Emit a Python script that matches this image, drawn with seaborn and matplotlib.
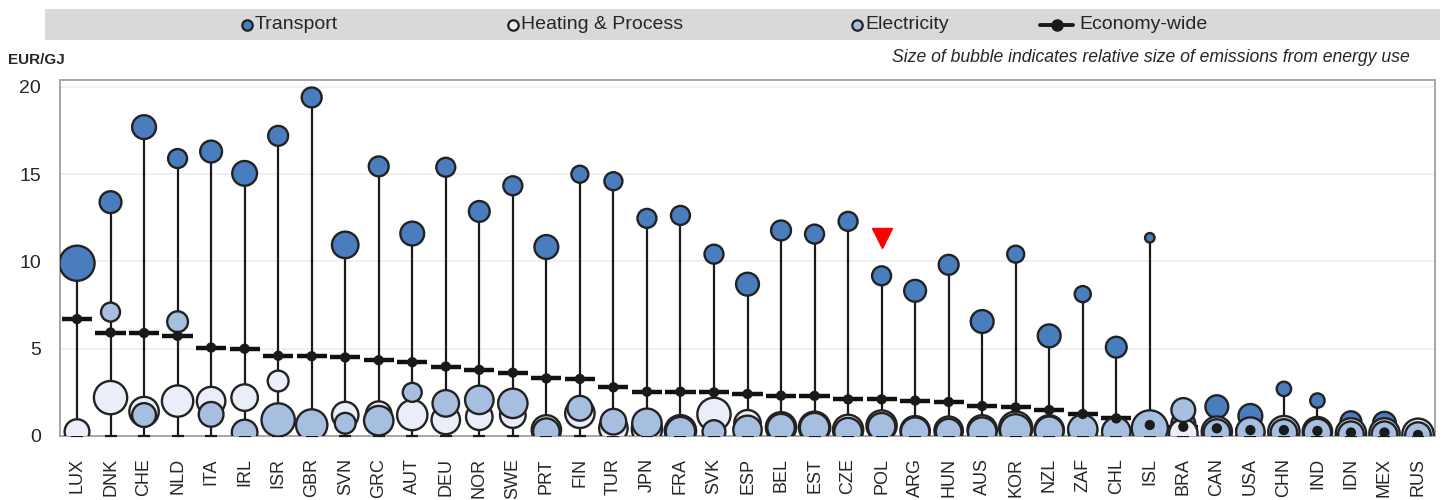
import numpy as np
import pandas as pd
import matplotlib
matplotlib.use("Agg")
import matplotlib.pyplot as plt
from matplotlib.lines import Line2D
from matplotlib.patches import Rectangle
import seaborn as sns

# --- data (EUR/GJ) ---
countries = ["LUX", "DNK", "CHE", "NLD", "ITA", "IRL", "ISR", "GBR", "SVN", "GRC",
             "AUT", "DEU", "NOR", "SWE", "PRT", "FIN", "TUR", "JPN", "FRA", "SVK",
             "ESP", "BEL", "EST", "CZE", "POL", "ARG", "HUN", "AUS", "KOR", "NZL",
             "ZAF", "CHL", "ISL", "BRA", "CAN", "USA", "CHN", "IND", "IDN", "MEX", "RUS"]

transport = [9.9, 13.4, 17.7, 15.9, 16.3, 15.05, 17.2, 19.4, 10.95, 15.45,
             11.6, 15.4, 12.87, 14.34, 10.83, 15.0, 14.6, 12.47, 12.64, 10.42,
             8.7, 11.78, 11.57, 12.3, 9.18, 8.32, 9.81, 6.56, 10.42, 5.74,
             8.13, 5.09, 11.36, 0.7, 1.68, 1.15, 2.7, 2.03, 0.82, 0.73, np.nan]
heating = [0.25, 2.2, 1.4, 2.0, 2.0, 2.2, 3.15, 0.5, 1.2, 1.25,
           1.2, 0.92, 1.1, 1.2, 0.35, 1.3, 0.44, 0.4, 0.3, 1.24,
           0.73, 0.5, 0.5, 0.35, 0.6, 0.3, 0.3, 0.35, 0.45, 0.35,
           0.3, 0.25, 0.4, 0.15, 0.25, 0.2, 0.25, 0.25, 0.15, 0.15, 0.1]
electricity = [np.nan, 7.1, 1.2, 6.55, 1.24, 0.2, 0.92, 0.63, 0.73, 0.88,
               2.5, 1.87, 2.07, 1.87, 0.25, 1.59, 0.82, 0.73, 0.25, 0.25,
               0.35, 0.48, 0.48, 0.25, 0.53, 0.25, 0.25, 0.25, 0.35, 0.3,
               0.38, 0.25, 0.44, 1.49, 0.2, 0.25, 0.2, 0.2, 0.1, 0.1, 0.05]
economy = [6.7, 5.93, 5.9, 5.74, 5.07, 5.0, 4.6, 4.57, 4.5, 4.34,
           4.23, 3.98, 3.79, 3.63, 3.3, 3.27, 2.79, 2.54, 2.54, 2.5,
           2.41, 2.31, 2.3, 2.1, 2.1, 2.03, 1.95, 1.72, 1.64, 1.49,
           1.26, 1.01, 0.63, 0.53, 0.44, 0.34, 0.34, 0.29, 0.2, 0.2, 0.06]

# relative size of emissions (bubble area)
emis_transport = [13.7, 5.3, 6.3, 4.0, 5.3, 6.8, 4.4, 4.4, 7.8, 4.4,
                  6.3, 4.0, 4.8, 4.0, 6.3, 3.2, 3.6, 4.0, 4.0, 4.0,
                  5.8, 4.4, 4.0, 4.0, 4.0, 5.3, 4.4, 5.8, 3.2, 5.8,
                  2.9, 4.8, 1.0, 6.3, 5.8, 6.3, 2.3, 2.3, 4.8, 5.8, 4.8]
emis_heating = [6.8, 12.3, 9.6, 10.9, 9.0, 7.8, 4.8, 7.8, 7.8, 7.3,
                10.2, 9.0, 7.8, 7.3, 9.6, 9.6, 9.0, 10.2, 10.9, 12.3,
                7.8, 10.2, 10.9, 10.2, 10.2, 9.6, 9.0, 9.6, 12.3, 9.6,
                9.0, 8.4, 11.6, 9.0, 10.2, 8.4, 10.9, 9.6, 10.2, 10.2, 10.9]
emis_electricity = [np.nan, 4.0, 6.3, 4.8, 6.8, 7.3, 12.3, 10.9, 4.8, 9.6,
                    4.0, 7.8, 9.0, 9.6, 7.8, 6.8, 7.3, 9.6, 9.6, 5.8,
                    9.0, 8.4, 9.6, 8.4, 8.4, 9.0, 7.3, 9.0, 10.9, 9.0,
                    9.6, 9.0, 14.4, 6.3, 7.8, 9.0, 7.8, 8.4, 7.3, 7.3, 7.3]

highlight_country = "POL"
highlight_value = 11.34

colors = {"Transport": "#4a7dbd", "Heating & Process": "#e9eef8", "Electricity": "#a6bfe1"}

# --- long table for seaborn ---
pos = np.arange(len(countries))
frames = []
for name, vals, em in [("Transport", transport, emis_transport),
                       ("Heating & Process", heating, emis_heating),
                       ("Electricity", electricity, emis_electricity)]:
    frames.append(pd.DataFrame({"x": pos, "country": countries, "value": vals,
                                "emis": em, "sector": name}))
df = pd.concat(frames, ignore_index=True).dropna(subset=["value", "emis"])

top = np.nanmax(np.vstack([transport, heating, electricity]), axis=0)

sns.set_style("white")
plt.rcParams["font.family"] = ["Liberation Sans", "DejaVu Sans"]

fig = plt.figure(figsize=(14.42, 5.0), dpi=100)
ax = fig.add_axes([60.25 / 1442, 64 / 500, (1434.75 - 60.25) / 1442, 356 / 500])

# stems and bottom caps
ax.vlines(pos, 0, top, color="#1a1a1a", lw=1.6, zorder=1)
ax.plot(pos, np.zeros(len(pos)), ls="none", marker="_", ms=9, mew=1.6,
        color="#1a1a1a", zorder=2.7, clip_on=False)

# economy-wide dashes
ax.hlines(economy, pos - 0.45, pos + 0.45, color="#111111", lw=3.2, zorder=2)

# bubbles
emax = 15.0
sns.scatterplot(data=df, x="x", y="value", hue="sector", palette=colors,
                size="emis", sizes=(0, emax * 0.72 ** 2 * 100 * 0.9), size_norm=(0, emax),
                edgecolor="#222222", linewidth=1.7, legend=False, ax=ax, zorder=3)

# economy-wide dots
sns.scatterplot(x=pos, y=economy, color="#1a1a1a", s=55, edgecolor="none",
                legend=False, ax=ax, zorder=4)

# red marker
ax.plot(countries.index(highlight_country), highlight_value, marker="v", ms=15,
        color="#ff0000", ls="none", zorder=5)

ax.set_xlim(-0.5, len(countries) - 0.5)
ax.set_ylim(0, 20.4)
ax.set_yticks([0, 5, 10, 15, 20])
ax.set_xticks(pos)
ax.set_xticklabels(countries, rotation=90)
ax.set_xlabel("")
ax.set_ylabel("")
ax.tick_params(axis="x", length=0, pad=16, labelsize=13)
ax.tick_params(axis="y", length=0, pad=14, labelsize=14)
ax.grid(axis="y", color="#eeeeee", lw=1.2)
ax.set_axisbelow(True)
for sp in ax.spines.values():
    sp.set_color("#a6a6a6")
    sp.set_linewidth(1.4)

# legend band
fig.add_artist(Rectangle((45 / 1442, 1 - 40 / 500), (1440 - 45) / 1442, 31 / 500,
                         transform=fig.transFigure, facecolor="#d9d9d9",
                         edgecolor="none", zorder=0))
ly = 1 - 24.5 / 500
items = [(247, "Transport"), (513, "Heating & Process"), (857, "Electricity")]
for px, name in items:
    fig.add_artist(Line2D([px / 1442], [ly], marker="o", ms=7.5, mfc=colors[name],
                          mec="#222222", mew=1.6, transform=fig.transFigure))
    fig.text((px + 8) / 1442, ly, name, ha="left", va="center", fontsize=14)
fig.add_artist(Line2D([1040 / 1442, 1073 / 1442], [ly, ly], color="#1a1a1a", lw=2.8,
                      transform=fig.transFigure))
fig.add_artist(Line2D([1057 / 1442], [ly], marker="o", ms=8, mfc="#1a1a1a",
                      mec="#1a1a1a", transform=fig.transFigure))
fig.text(1079 / 1442, ly, "Economy-wide", ha="left", va="center", fontsize=14)

fig.text(8 / 1442, 1 - 60 / 500, "EUR/GJ", ha="left", va="center",
         fontsize=11, fontweight="bold")
fig.text(1410 / 1442, 1 - 58 / 500,
         "Size of bubble indicates relative size of emissions from energy use",
         ha="right", va="center", fontsize=12.7, style="italic")

fig.savefig("out.png", dpi=100)
